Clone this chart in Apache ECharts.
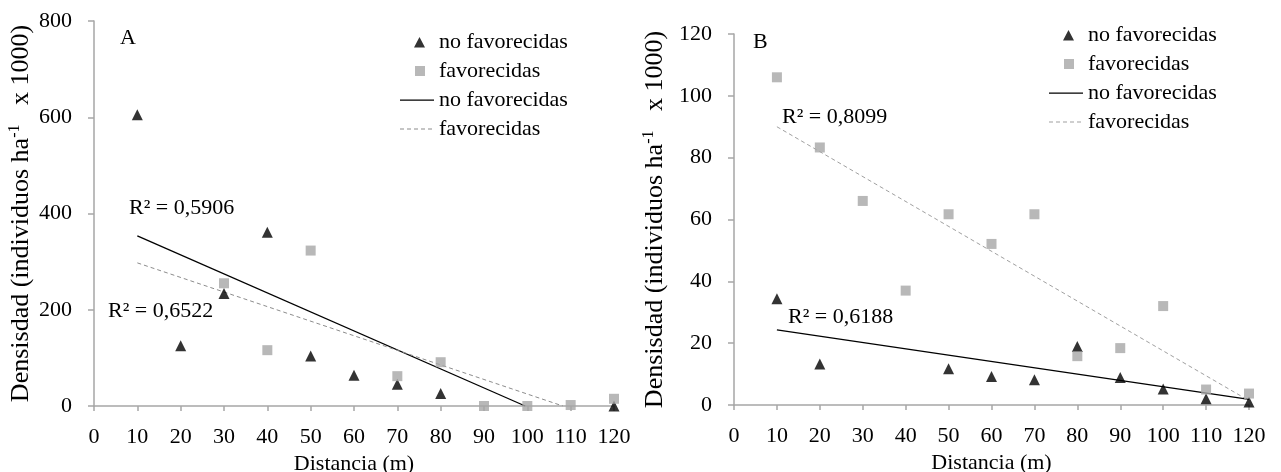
<!DOCTYPE html>
<html>
<head>
<meta charset="utf-8">
<script src="https://cdn.jsdelivr.net/npm/echarts@6/dist/echarts.min.js"></script>
<style>
html,body{margin:0;padding:0;background:#fff;}
#chart{width:1281px;height:472px;}
</style>
</head>
<body>
<div id="chart"></div>
<script>
// ---------- data ----------
const distances = [10, 20, 30, 40, 50, 60, 70, 80, 90, 100, 110, 120];

// Panel A (Densidad x 1000)
const aNoFav = [605, 125, 234, 361, 104, 64, 45, 26, null, null, null, 0];
const aFav   = [null, null, 255, 116, 323, null, 62, 91, 0, 0, 2, 15];
const aTrendNoFav = [[10, 353.5], [99.5, 0]];
const aTrendFav   = [[10, 297.4], [108.2, 0]];

// Panel B
const bNoFav = [34.4, 13.3, null, null, 11.7, 9.2, 8.2, 18.9, 8.9, 5.2, 2, 1];
const bFav   = [106, 83.3, 66, 37, 61.7, 52.1, 61.7, 15.8, 18.4, 32, 5, 3.7];
const bTrendNoFav = [[10, 24.3], [120, 1.8]];
const bTrendFav   = [[10, 90], [120, 1.4]];

const legendLabels = ['no favorecidas', 'favorecidas', 'no favorecidas', 'favorecidas'];
const r2A = ['R\u00b2 = 0,5906', 'R\u00b2 = 0,6522'];
const r2B = ['R\u00b2 = 0,8099', 'R\u00b2 = 0,6188'];
const panelLetters = ['A', 'B'];
const xTitle = 'Distancia (m)';
const yTitle = 'Densisdad (individuos ha{sup|-1}   x 1000)';

// ---------- helpers ----------
const FONT = '"Liberation Serif", "Times New Roman", serif';
const FS = 22;
const YT_FS = 26;
const AXIS_GRAY = '#a6a6a6';
function pairs(vals) {
  const out = [];
  vals.forEach((v, i) => { if (v !== null) out.push([distances[i], v]); });
  return out;
}
function xAxisCfg(gridIndex) {
  return {
    gridIndex, type: 'value', min: 0, max: 120, interval: 10,
    axisLine: { show: true, lineStyle: { color: AXIS_GRAY, width: 1.5 } },
    axisTick: { show: true, length: 5, lineStyle: { color: AXIS_GRAY, width: 1.5 } },
    splitLine: { show: false },
    axisLabel: { fontFamily: FONT, fontSize: FS, color: '#000', margin: 20 },
    name: xTitle, nameLocation: 'middle', nameGap: 44,
    nameTextStyle: { fontFamily: FONT, fontSize: FS, color: '#000' }
  };
}
function yAxisCfg(gridIndex, max, interval, gap) {
  return {
    gridIndex, type: 'value', min: 0, max, interval,
    axisLine: { show: true, lineStyle: { color: AXIS_GRAY, width: 1.5 } },
    axisTick: { show: true, length: 6, lineStyle: { color: AXIS_GRAY, width: 1.5 } },
    splitLine: { show: false },
    axisLabel: { fontFamily: FONT, fontSize: FS, color: '#000', margin: 22 },
    name: yTitle, nameLocation: 'middle', nameGap: gap, nameRotate: 90,
    nameTextStyle: {
      fontFamily: FONT, fontSize: YT_FS, color: '#000', lineHeight: 28,
      rich: { sup: { fontFamily: FONT, fontSize: 16, color: '#000', verticalAlign: 'top', lineHeight: 28 } }
    }
  };
}
function scatter(name, idx, data, symbol, size, color) {
  return { name, type: 'scatter', xAxisIndex: idx, yAxisIndex: idx, data, symbol, symbolSize: size,
    symbolKeepAspect: true, itemStyle: { color }, z: 5, clip: false };
}
function trend(name, idx, data, color, width, dash) {
  return { name, type: 'line', xAxisIndex: idx, yAxisIndex: idx, data, symbol: 'none', showSymbol: false,
    itemStyle: { color }, lineStyle: { color, width, type: dash }, z: 3, silent: true };
}
const nameMap = {
  A_tri: legendLabels[0], A_sq: legendLabels[1], A_tn: legendLabels[2], A_tf: legendLabels[3],
  B_tri: legendLabels[0], B_sq: legendLabels[1], B_tn: legendLabels[2], B_tf: legendLabels[3]
};
// legend icons drawn inside a 34x11 icon box (tiny corner dots fix the box)
const BOX = ' M0,0 L0.01,0 L0.01,0.01 Z M34,11 L33.99,11 L33.99,10.99 Z';
const ICON_TRI = 'path://M19.5,0.5 L25,11 L14,11 Z' + BOX;
const ICON_SQ  = 'path://M15,0.5 L25,0.5 L25,10.5 L15,10.5 Z' + BOX;
const ICON_SOLID = 'path://M0,5 L34,5 L34,6.3 L0,6.3 Z' + BOX;
const ICON_DASH = 'path://M0,5 L4,5 L4,6 L0,6 Z M7,5 L11,5 L11,6 L7,6 Z M14,5 L18,5 L18,6 L14,6 Z M21,5 L25,5 L25,6 L21,6 Z M28,5 L32,5 L32,6 L28,6 Z' + BOX;
function legendCfg(prefix, left, top) {
  return {
    orient: 'vertical', left, top, itemWidth: 34, itemHeight: 11, itemGap: 7,
    selectedMode: false, symbolKeepAspect: false,
    textStyle: { fontFamily: FONT, fontSize: FS, color: '#000' },
    data: [
      { name: prefix + '_tri', icon: ICON_TRI },
      { name: prefix + '_sq', icon: ICON_SQ },
      { name: prefix + '_tn', icon: ICON_SOLID },
      { name: prefix + '_tf', icon: ICON_DASH }
    ],
    formatter: n => nameMap[n]
  };
}
function txt(text, left, top) {
  return { type: 'text', left, top, style: { text, font: FS + 'px "Liberation Serif"', fill: '#000' } };
}

const option = {
  animation: false,
  backgroundColor: '#fff',
  textStyle: { fontFamily: FONT, fontSize: FS, color: '#000' },
  grid: [
    { left: 94, top: 21, width: 520, height: 385, containLabel: false, outerBoundsMode: 'none' },
    { left: 734, top: 34, width: 515, height: 371, containLabel: false, outerBoundsMode: 'none' }
  ],
  xAxis: [xAxisCfg(0), xAxisCfg(1)],
  yAxis: [yAxisCfg(0, 800, 200, 58), yAxisCfg(1, 120, 20, 65)],
  legend: [legendCfg('A', 395, 26), legendCfg('B', 1044, 19)],
  series: [
    trend('A_tn', 0, aTrendNoFav, '#000', 1.3, 'solid'),
    trend('A_tf', 0, aTrendFav, '#8c8c8c', 1, [4, 3]),
    scatter('A_tri', 0, pairs(aNoFav), 'triangle', 11, '#000'),
    scatter('A_sq', 0, pairs(aFav), 'rect', 10, '#a6a6a6'),
    trend('B_tn', 1, bTrendNoFav, '#000', 1.3, 'solid'),
    trend('B_tf', 1, bTrendFav, '#a0a0a0', 1, [4, 3]),
    scatter('B_tri', 1, pairs(bNoFav), 'triangle', 11, '#000'),
    scatter('B_sq', 1, pairs(bFav), 'rect', 10, '#a6a6a6')
  ],
  graphic: [
    txt(panelLetters[0], 120, 27),
    txt(panelLetters[1], 753, 31),
    txt(r2A[0], 129, 197),
    txt(r2A[1], 108, 300),
    txt(r2B[0], 782, 106),
    txt(r2B[1], 788, 306)
  ]
};
const chart = echarts.init(document.getElementById('chart'), null, { renderer: 'canvas' });
chart.setOption(option);
</script>
</body>
</html>
